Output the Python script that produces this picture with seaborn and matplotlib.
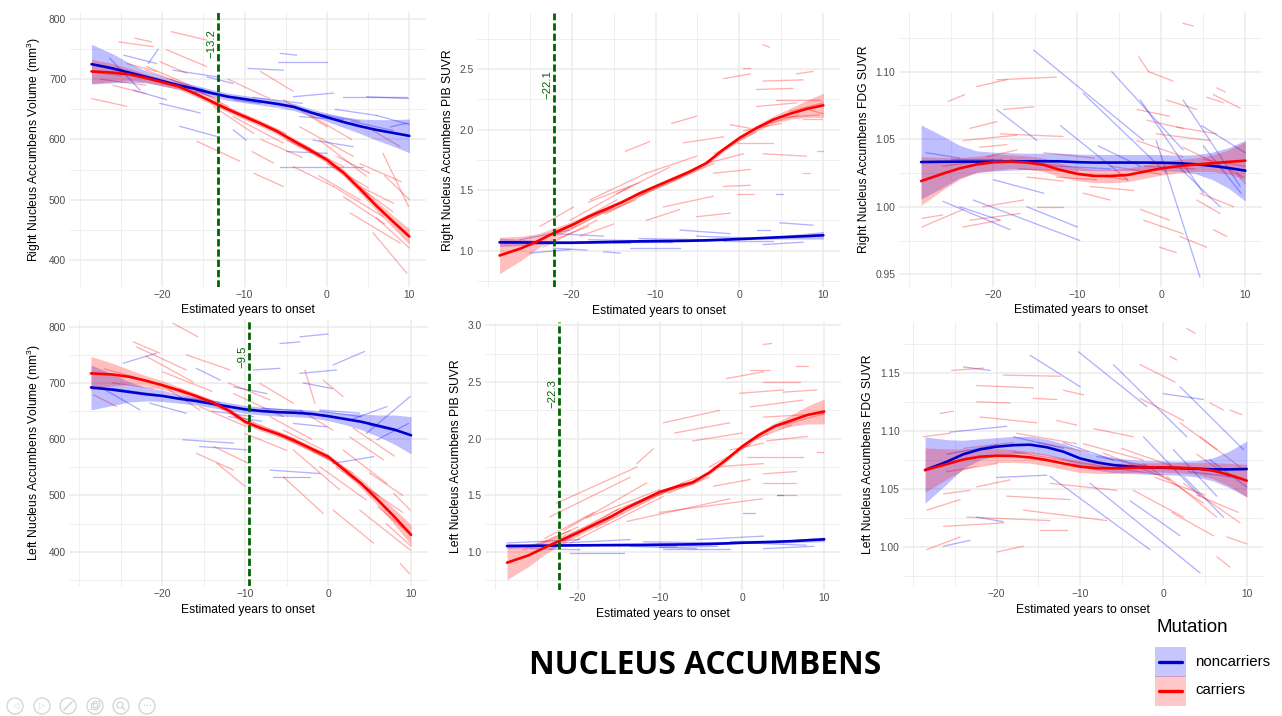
import numpy as np
import pandas as pd
import seaborn as sns
import matplotlib.pyplot as plt
import matplotlib.transforms as mtransforms
from matplotlib.patches import Rectangle, Circle
from matplotlib.lines import Line2D

sns.set_theme(style="white")
plt.rcParams['font.family'] = ['Liberation Sans', 'DejaVu Sans']
plt.rcParams['mathtext.default'] = 'regular'
plt.rcParams['axes.unicode_minus'] = True
plt.rcParams['text.color'] = 'black'
plt.rcParams['axes.labelcolor'] = 'black'

W, H = 1282, 716

# ---------------------------------------------------------------- data
fit_years = [-28.6, -26, -24, -22, -20, -18, -16, -14, -12, -10,
             -8, -6, -4, -2, 0, 2, 4, 6, 8, 10]

# Right nucleus accumbens volume (mm^3)
rvol_fit_non = [725, 718, 711, 704, 697, 690, 684, 677, 671, 667,
                663, 659, 654, 645, 637, 629, 622, 616, 611, 606]
rvol_se_non = [33, 24, 16, 10, 8, 7, 6, 6, 6, 6, 6, 6, 6, 6, 7, 9, 12, 17, 22, 28]
rvol_fit_car = [713, 711, 708, 702, 695, 688, 676, 663, 650, 638,
                626, 613, 597, 582, 566, 545, 518, 490, 464, 439]
rvol_se_car = [20, 15, 10, 7, 6, 5, 5, 5, 5, 5, 5, 5, 5, 5, 5, 6, 7, 8, 10, 13]

# Right nucleus accumbens PIB SUVR
rpib_fit_non = [1.069, 1.068, 1.067, 1.066, 1.066, 1.068, 1.071, 1.074, 1.077, 1.079,
                1.080, 1.082, 1.085, 1.090, 1.096, 1.102, 1.108, 1.114, 1.120, 1.127]
rpib_se_non = [0.035, 0.025, 0.017, 0.012, 0.010, 0.009, 0.008, 0.008, 0.008, 0.008,
               0.008, 0.008, 0.008, 0.008, 0.009, 0.010, 0.013, 0.018, 0.025, 0.032]
rpib_fit_car = [0.96, 1.02, 1.08, 1.15, 1.21, 1.28, 1.34, 1.40, 1.47, 1.53,
                1.59, 1.65, 1.72, 1.83, 1.93, 2.01, 2.08, 2.13, 2.17, 2.20]
rpib_se_car = [0.15, 0.10, 0.06, 0.04, 0.03, 0.025, 0.02, 0.02, 0.02, 0.02,
               0.02, 0.02, 0.02, 0.02, 0.02, 0.025, 0.03, 0.045, 0.07, 0.10]

# Right nucleus accumbens FDG SUVR
rfdg_fit_non = [1.0331, 1.0333, 1.0334, 1.0334, 1.0334, 1.0335, 1.0336, 1.0337, 1.0336, 1.0330,
                1.0327, 1.0327, 1.0327, 1.0327, 1.0326, 1.0322, 1.0315, 1.0303, 1.0287, 1.0267]
rfdg_se_non = [0.0275, 0.019, 0.012, 0.008, 0.007, 0.0065, 0.006, 0.006, 0.006, 0.006,
               0.006, 0.006, 0.006, 0.006, 0.006, 0.006, 0.007, 0.010, 0.015, 0.0225]
rfdg_fit_car = [1.0190, 1.0245, 1.0284, 1.0313, 1.0329, 1.0334, 1.0327, 1.0310, 1.0272, 1.0243,
                1.0228, 1.0228, 1.0235, 1.0260, 1.0284, 1.0300, 1.0312, 1.0322, 1.0332, 1.0341]
rfdg_se_car = [0.018, 0.012, 0.008, 0.006, 0.006, 0.005, 0.005, 0.005, 0.005, 0.005,
               0.005, 0.005, 0.005, 0.005, 0.005, 0.005, 0.005, 0.006, 0.009, 0.014]

# Left nucleus accumbens volume (mm^3)
lvol_fit_non = [692, 688, 684, 680, 677, 672, 668, 663, 658, 653,
                650, 648, 647, 645, 641, 636, 631, 624, 617, 607]
lvol_se_non = [40, 28, 18, 12, 10, 8, 7, 7, 7, 7, 7, 7, 7, 7, 8, 10, 14, 19, 26, 33]
lvol_fit_car = [717, 715, 711, 704, 696, 687, 677, 666, 651, 631,
                619, 609, 597, 583, 569, 545, 521, 492, 462, 430]
lvol_se_car = [30, 20, 13, 9, 8, 6, 5, 5, 5, 5, 5, 5, 5, 5, 5, 6, 8, 10, 14, 18]

# Left nucleus accumbens PIB SUVR
lpib_fit_non = [1.053, 1.055, 1.056, 1.058, 1.059, 1.060, 1.061, 1.062, 1.063, 1.065,
                1.066, 1.068, 1.071, 1.076, 1.082, 1.086, 1.090, 1.096, 1.104, 1.112]
lpib_se_non = [0.022, 0.016, 0.012, 0.010, 0.008, 0.008, 0.007, 0.007, 0.007, 0.007,
               0.007, 0.007, 0.007, 0.007, 0.008, 0.009, 0.011, 0.014, 0.017, 0.021]
lpib_fit_car = [0.906, 0.97, 1.04, 1.105, 1.17, 1.24, 1.31, 1.39, 1.46, 1.53,
                1.575, 1.615, 1.70, 1.81, 1.93, 2.03, 2.11, 2.16, 2.21, 2.24]
lpib_se_car = [0.15, 0.10, 0.06, 0.04, 0.03, 0.025, 0.02, 0.02, 0.02, 0.02,
               0.02, 0.02, 0.02, 0.02, 0.02, 0.025, 0.03, 0.05, 0.08, 0.11]

# Left nucleus accumbens FDG SUVR
lfdg_fit_non = [1.0664, 1.0735, 1.0800, 1.0842, 1.0865, 1.0878, 1.0882, 1.0860, 1.0822, 1.0764,
                1.0730, 1.0707, 1.0694, 1.0687, 1.0684, 1.0680, 1.0675, 1.0670, 1.0670, 1.0673]
lfdg_se_non = [0.0285, 0.019, 0.012, 0.009, 0.0078, 0.0075, 0.0072, 0.007, 0.007, 0.007,
               0.0068, 0.0065, 0.006, 0.006, 0.006, 0.006, 0.007, 0.010, 0.016, 0.024]
lfdg_fit_car = [1.0664, 1.0715, 1.0755, 1.0779, 1.0787, 1.0785, 1.0773, 1.0750, 1.0721, 1.0693,
                1.0680, 1.0679, 1.0683, 1.0687, 1.0687, 1.0684, 1.0678, 1.0658, 1.0621, 1.0573]
lfdg_se_car = [0.019, 0.013, 0.009, 0.007, 0.006, 0.0055, 0.005, 0.005, 0.005, 0.005,
               0.0045, 0.0045, 0.004, 0.004, 0.004, 0.0045, 0.005, 0.007, 0.010, 0.014]

# individual trajectories: (first visit EYO, last visit EYO, first value, last value)
rvol_traj_car = [
    (-25.3, -21.1, 762, 754), (-23.3, -21.3, 768, 762), (-18.9, -14.6, 779, 765),
    (-28.6, -24.3, 668, 655), (-19.5, -14.6, 749, 721), (-21.9, -15.8, 721, 685),
    (-15.8, -10.6, 597, 564), (-9.1, -6.5, 580, 561), (-8.9, -5.3, 544, 522),
    (-8.1, -4.1, 713, 680), (-5.3, 0.0, 666, 621), (-3.3, 3.2, 621, 572),
    (-0.9, 4.8, 599, 539), (0.8, 6.8, 522, 472), (2.8, 8.9, 478, 428),
    (5.6, 9.7, 445, 378), (6.8, 9.9, 577, 489), (1.2, 5.2, 572, 544),
    (-11.4, -5.3, 638, 594), (-13.8, -8.9, 655, 610), (-4.9, -0.9, 599, 572),
    (-4.1, 0.8, 555, 522), (4.0, 8.1, 522, 494), (4.8, 8.9, 621, 588),
    (-24.3, -20.7, 726, 713), (-20.3, -17.0, 729, 710), (-27.5, -22.0, 700, 690),
    (-12.0, -7.0, 700, 668), (-2.0, 3.0, 640, 600), (7.0, 10.0, 540, 500),
    (-28.5, -25.0, 712, 706), (-26.0, -22.0, 690, 676),
    (-22.0, -17.0, 715, 690), (-17.0, -12.0, 690, 655), (-14.0, -9.0, 660, 630),
    (-10.0, -5.0, 640, 610), (-7.0, -2.0, 620, 585), (-3.0, 2.0, 590, 555),
    (0.0, 5.0, 560, 520), (3.0, 8.0, 530, 480), (-1.0, 4.0, 540, 500),
    (2.0, 7.0, 505, 460), (6.0, 10.0, 470, 420), (-19.0, -13.0, 700, 665),
    (-8.0, -3.0, 600, 570), (4.0, 9.0, 560, 530),
]
rvol_traj_non = [
    (-5.7, -3.7, 743, 740), (-5.9, 0.0, 729, 729), (-9.6, -5.3, 718, 715),
    (-21.7, -20.5, 726, 750), (-24.7, -20.7, 740, 726), (-18.7, -13.4, 715, 704),
    (-26.4, -22.7, 735, 682), (-17.9, -13.4, 622, 605), (-11.4, -8.1, 666, 660),
    (-4.1, 0.8, 671, 677), (2.0, 9.7, 671, 671), (4.8, 9.9, 671, 668),
    (-3.3, 2.0, 638, 633), (-5.7, 4.4, 555, 555), (-1.7, 3.2, 599, 588),
    (-20.3, -15.4, 660, 644), (-23.5, -19.5, 682, 666), (7.7, 9.7, 621, 627),
    (-14.6, -11.4, 704, 693), (-11.4, -9.8, 616, 599), (-4.9, 0.0, 580, 577),
    (1.0, 6.0, 650, 640), (-16.0, -12.0, 680, 672),
    (-27.0, -23.0, 720, 705), (-20.0, -15.0, 695, 683), (-9.0, -3.0, 670, 660),
    (-2.0, 4.0, 645, 630), (3.0, 8.0, 630, 615), (6.0, 10.0, 640, 625),
]
rpib_traj_car = [
    (2.8, 3.6, 2.70, 2.68), (-1.9, 1.3, 2.42, 2.46), (0.4, 1.2, 2.51, 2.51),
    (2.05, 6.4, 2.33, 2.34), (2.8, 7.6, 2.40, 2.41), (4.4, 9.6, 2.24, 2.24),
    (6.8, 8.8, 2.46, 2.48), (2.05, 6.8, 2.19, 2.22), (8.4, 10.0, 2.16, 2.13),
    (7.6, 9.8, 2.09, 2.09), (-8.1, -5.1, 2.05, 2.11), (-1.1, 1.3, 2.04, 2.01),
    (-0.3, 4.0, 1.89, 1.89), (2.8, 8.0, 1.80, 1.78), (-13.6, -10.7, 1.82, 1.90),
    (-3.1, 1.3, 1.64, 1.67), (-1.9, 1.3, 1.53, 1.54), (-0.3, 1.7, 1.47, 1.47),
    (-9.1, -3.1, 1.36, 1.45), (-11.1, -7.1, 1.25, 1.34), (-23.8, -19.8, 1.20, 1.36),
    (-23.4, -17.0, 1.03, 1.25), (-21.8, -14.6, 1.14, 1.42), (-20.2, -13.0, 1.25, 1.53),
    (-17.8, -11.1, 1.42, 1.64), (-14.6, -8.3, 1.47, 1.69), (-11.1, -5.1, 1.64, 1.78),
    (-6.7, -1.9, 1.89, 1.94), (7.6, 8.4, 1.64, 1.64), (9.2, 10.0, 1.82, 1.82),
    (-5.1, -1.1, 1.28, 1.31), (-16.2, -12.3, 1.31, 1.42), (-22.5, -18.0, 1.08, 1.20),
    (-4.0, 0.5, 1.72, 1.80), (0.5, 5.0, 1.99, 2.05), (5.0, 9.5, 2.10, 2.12),
    (-19.0, -15.0, 1.12, 1.22),
    (-25.0, -20.0, 1.05, 1.22), (-20.0, -15.0, 1.18, 1.36), (-16.0, -11.0, 1.30, 1.48),
    (-12.0, -7.0, 1.45, 1.60), (-8.0, -3.0, 1.58, 1.72), (-3.0, 2.0, 1.80, 1.98),
    (2.0, 7.0, 2.02, 2.12), (6.0, 10.0, 2.15, 2.22), (-18.0, -12.0, 1.40, 1.56),
]
rpib_traj_non = [
    (-26.2, -20.2, 1.09, 1.17), (-21.8, -16.2, 1.14, 1.12), (-19.4, -13.0, 1.07, 1.06),
    (-16.2, -14.2, 0.99, 0.98), (-22.2, -18.2, 1.02, 1.005), (-7.1, -1.1, 1.17, 1.14),
    (-5.1, 2.8, 1.12, 1.10), (2.05, 3.6, 1.17, 1.17), (4.8, 8.8, 1.23, 1.21),
    (4.4, 5.2, 1.47, 1.47), (2.8, 7.6, 1.05, 1.07), (-13.0, -7.1, 1.02, 1.02),
    (-25.0, -20.2, 0.98, 1.01), (-12.0, -4.0, 1.10, 1.09), (-2.0, 4.0, 1.08, 1.08),
    (-18.0, -10.0, 1.09, 1.08),
    (-28.0, -22.0, 1.06, 1.07), (-15.0, -8.0, 1.07, 1.07), (-5.0, 2.0, 1.09, 1.10),
    (4.0, 10.0, 1.11, 1.13),
]
rfdg_traj_car = [
    (2.6, 3.8, 1.1358, 1.1338), (-2.7, -1.5, 1.111, 1.100), (-1.5, 1.4, 1.100, 1.093),
    (-22.0, -18.4, 1.089, 1.094), (-19.6, -12.5, 1.094, 1.096), (-25.4, -23.4, 1.078, 1.083),
    (-18.8, -15.2, 1.072, 1.074), (-22.8, -19.6, 1.058, 1.063), (-23.6, -17.2, 1.049, 1.053),
    (-19.2, -11.7, 1.054, 1.052), (-21.6, -18.4, 1.044, 1.046), (-2.9, 1.0, 1.072, 1.067),
    (-1.7, 2.6, 1.064, 1.058), (-0.6, 5.8, 1.054, 1.049), (1.8, 6.6, 1.059, 1.054),
    (5.4, 7.4, 1.081, 1.077), (6.6, 7.6, 1.088, 1.085), (6.2, 9.4, 1.083, 1.073),
    (0.6, 4.2, 1.079, 1.072), (2.6, 9.8, 1.044, 1.022), (-2.9, 2.6, 1.049, 1.037),
    (-16.0, -11.7, 1.022, 1.019), (-12.5, -7.7, 1.022, 1.020), (-8.5, -3.3, 1.015, 1.012),
    (-9.3, -6.1, 1.010, 1.005), (-14.8, -11.7, 1.000, 1.000), (-28.5, -26.0, 0.9914, 0.9939),
    (-28.5, -23.6, 0.985, 0.998), (-23.6, -19.2, 0.985, 0.990), (-22.8, -16.8, 0.990, 0.995),
    (-21.2, -16.4, 1.000, 1.005), (-20.8, -17.2, 1.037, 1.042), (-2.5, 1.0, 0.998, 0.990),
    (-2.1, 2.6, 0.990, 0.980), (-0.2, 1.8, 0.970, 0.966), (2.2, 5.4, 0.978, 0.970),
    (4.2, 7.0, 1.005, 0.995), (6.2, 7.8, 0.983, 0.978), (9.0, 10.0, 1.025, 1.017),
    (4.6, 8.6, 1.010, 1.000), (-17.0, -10.0, 1.028, 1.026), (-6.0, 0.0, 1.030, 1.024),
    (-26.0, -20.0, 1.030, 1.035), (-18.0, -12.0, 1.035, 1.030), (-10.0, -4.0, 1.025, 1.020),
    (-2.0, 4.0, 1.030, 1.028), (5.0, 10.0, 1.035, 1.030), (-14.0, -8.0, 1.040, 1.036),
]
rfdg_traj_non = [
    (-15.2, -2.1, 1.116, 1.049), (-5.9, 2.6, 1.100, 1.042), (-9.3, 0.6, 1.084, 1.025),
    (-2.5, 5.0, 1.079, 1.010), (2.6, 9.4, 1.079, 1.015), (-19.6, -14.8, 1.072, 1.049),
    (-0.6, 4.6, 1.049, 0.948), (-24.0, -19.2, 1.000, 0.990), (-22.4, -9.7, 1.005, 0.975),
    (-26.0, -18.0, 1.004, 0.983), (-7.5, -2.5, 1.045, 1.030), (4.8, 10.0, 1.060, 1.040),
    (-28.0, -24.0, 1.040, 1.036), (-12.0, -4.0, 1.060, 1.020), (2.0, 7.0, 1.030, 1.000),
    (5.0, 9.5, 1.045, 1.010), (-16.0, -10.0, 1.000, 0.985), (-20.0, -14.0, 1.020, 1.010),
    (-25.0, -19.0, 1.035, 1.035), (-12.0, -6.0, 1.030, 1.028),
]
lvol_traj_car = [
    (-18.7, -15.7, 806, 782), (-23.5, -20.3, 773, 753), (-23.1, -17.1, 764, 723),
    (-28.3, -25.5, 679, 658), (-21.9, -16.3, 747, 702), (-17.1, -11.8, 750, 723),
    (-15.9, -11.4, 575, 545), (-13.4, -10.0, 557, 516), (-15.5, -9.8, 658, 622),
    (-11.4, -5.4, 681, 640), (-8.2, -4.2, 699, 664), (-5.4, -0.6, 616, 581),
    (-2.8, -1.6, 723, 664), (-5.4, -0.6, 533, 468), (-4.2, 1.4, 581, 510),
    (-1.0, 4.6, 551, 492), (0.6, 5.5, 474, 415), (1.8, 7.1, 581, 521),
    (3.8, 9.9, 474, 403), (8.7, 9.8, 379, 361), (7.9, 9.9, 504, 474),
    (-0.6, 1.8, 705, 676), (-13.8, -9.6, 587, 557), (-20.3, -15.5, 699, 652),
    (-3.4, 0.6, 652, 616), (2.6, 6.7, 604, 563), (-26.0, -21.0, 700, 690),
    (-10.0, -5.0, 610, 580), (5.0, 9.0, 540, 500), (-7.0, -2.0, 640, 600),
    (-27.0, -22.0, 725, 705), (-22.0, -17.0, 705, 680), (-18.0, -13.0, 690, 660),
    (-14.0, -9.0, 665, 630), (-9.0, -4.0, 630, 600), (-5.0, 0.0, 600, 565),
    (-2.0, 3.0, 580, 540), (1.0, 6.0, 550, 500), (4.0, 9.0, 520, 470),
    (6.0, 10.0, 480, 430), (-20.0, -14.0, 720, 685), (-12.0, -7.0, 700, 670),
    (3.0, 8.0, 620, 570), (7.0, 10.0, 450, 410),
]
lvol_traj_non = [
    (-5.8, -3.4, 770, 773), (-3.4, 0.0, 782, 787), (-3.4, 1.0, 717, 723),
    (0.6, 4.4, 732, 756), (-9.0, -5.8, 723, 726), (-15.9, -13.0, 726, 705),
    (-24.7, -20.7, 735, 753), (-27.5, -22.7, 693, 652), (-17.5, -11.4, 599, 593),
    (-15.5, -9.8, 587, 581), (-7.0, -1.0, 545, 539), (-6.6, -2.2, 533, 533),
    (-1.0, 3.8, 652, 646), (2.6, 7.1, 634, 658), (4.6, 9.9, 610, 676),
    (5.9, 9.7, 599, 628), (-11.4, -7.4, 693, 681), (-4.2, -0.2, 628, 622),
    (0.6, 5.5, 557, 569), (-21.5, -17.1, 664, 646), (-3.0, 0.5, 700, 690),
    (-12.0, -8.0, 640, 632),
    (-26.0, -21.0, 690, 680), (-18.0, -13.0, 675, 665), (-8.0, -3.0, 655, 650),
    (-1.0, 4.0, 650, 640), (5.0, 9.0, 625, 612), (-14.0, -9.0, 650, 640),
]
lpib_traj_car = [
    (2.6, 3.6, 2.83, 2.84), (-1.9, 2.6, 2.53, 2.59), (6.6, 8.0, 2.64, 2.64),
    (1.0, 3.4, 2.61, 2.61), (2.6, 7.0, 2.50, 2.50), (5.0, 9.1, 2.41, 2.43),
    (-0.3, 5.0, 2.40, 2.43), (1.0, 7.4, 2.28, 2.34), (2.6, 9.9, 2.19, 2.22),
    (-9.6, -2.7, 2.14, 2.25), (-8.2, -1.5, 2.05, 2.14), (-12.8, -10.8, 1.78, 1.91),
    (-1.5, 2.6, 1.90, 1.96), (0.6, 7.4, 1.84, 1.84), (9.1, 9.9, 1.88, 1.88),
    (-3.5, 2.6, 1.75, 1.78), (2.6, 6.6, 1.69, 1.71), (2.6, 6.6, 1.61, 1.61),
    (4.2, 6.6, 1.50, 1.50), (-14.0, -1.5, 1.27, 1.47), (-10.0, 2.5, 1.35, 1.47),
    (-22.6, -12.8, 1.43, 1.75), (-23.4, -13.6, 1.31, 1.66), (-21.7, -11.6, 1.19, 1.61),
    (-23.4, -15.3, 1.02, 1.37), (-20.9, -9.6, 1.08, 1.49), (-17.7, -7.2, 1.22, 1.61),
    (-15.3, -5.5, 1.37, 1.66), (-26.6, -20.9, 1.02, 1.19), (-3.5, 1.0, 1.58, 1.64),
    (-19.0, -10.0, 1.30, 1.55), (-6.0, 0.0, 1.98, 2.05), (3.0, 8.0, 1.98, 2.02),
    (-25.0, -20.0, 1.05, 1.22), (-21.0, -15.0, 1.15, 1.38), (-17.0, -11.0, 1.28, 1.50),
    (-13.0, -7.0, 1.42, 1.60), (-9.0, -4.0, 1.52, 1.66), (-4.0, 1.0, 1.75, 1.95),
    (1.0, 6.0, 1.98, 2.12), (5.0, 10.0, 2.12, 2.22), (-24.0, -18.0, 1.12, 1.35),
]
lpib_traj_non = [
    (-28.6, -19.7, 1.08, 1.11), (-21.7, -13.6, 1.08, 1.11), (-20.9, -14.4, 0.99, 0.99),
    (-13.6, -5.5, 1.05, 1.03), (-5.5, 2.6, 1.11, 1.14), (0.6, 7.8, 1.08, 1.06),
    (4.2, 5.0, 1.50, 1.50), (0.1, 1.6, 1.34, 1.34), (-9.6, -1.5, 1.03, 1.03),
    (-25.8, -19.7, 1.03, 1.02), (-1.5, 6.6, 1.10, 1.10), (2.6, 8.7, 1.03, 1.05),
    (-18.0, -8.0, 1.06, 1.05), (-12.0, -2.0, 1.09, 1.08),
    (-27.0, -20.0, 1.05, 1.06), (-16.0, -9.0, 1.06, 1.06), (-6.0, 1.0, 1.07, 1.08),
    (3.0, 10.0, 1.09, 1.11), (-10.0, -3.0, 1.04, 1.05),
]
lfdg_traj_car = [
    (2.8, 3.8, 1.188, 1.184), (0.8, 1.6, 1.164, 1.161), (-2.8, 1.4, 1.157, 1.142),
    (-25.4, -21.6, 1.152, 1.154), (-19.2, -12.4, 1.148, 1.147), (-22.4, -15.6, 1.139, 1.137),
    (-12.0, -9.6, 1.135, 1.131), (-22.4, -18.4, 1.125, 1.124), (-15.6, -12.8, 1.128, 1.127),
    (-26.8, -25.2, 1.115, 1.117), (-22.0, -15.2, 1.112, 1.107), (-12.8, -10.4, 1.109, 1.105),
    (-2.8, 2.4, 1.128, 1.109), (5.6, 7.2, 1.124, 1.118), (8.0, 9.4, 1.118, 1.114),
    (2.0, 6.4, 1.107, 1.084), (4.4, 9.2, 1.095, 1.069), (-8.4, -3.6, 1.102, 1.095),
    (-9.6, -2.4, 1.089, 1.075), (-7.2, 0.8, 1.081, 1.058), (-2.4, 4.8, 1.072, 1.038),
    (0.4, 6.4, 1.061, 1.026), (2.4, 9.2, 1.055, 1.021), (7.6, 10.0, 1.009, 1.003),
    (6.4, 8.0, 0.992, 0.983), (-3.6, 2.4, 1.049, 1.026), (-28.4, -24.4, 1.032, 1.041),
    (-28.4, -24.4, 0.998, 1.009), (-26.4, -19.2, 1.018, 1.021), (-20.0, -16.8, 0.996, 1.001),
    (-22.4, -18.4, 1.052, 1.058), (-26.4, -23.2, 1.046, 1.049), (-23.6, -13.6, 1.026, 1.023),
    (-14.8, -11.6, 1.015, 1.015), (-18.8, -11.2, 1.044, 1.041), (-16.8, -6.8, 1.032, 1.023),
    (-13.6, -5.6, 1.055, 1.049), (-28.8, -25.6, 1.095, 1.098), (-17.6, -10.4, 1.098, 1.089),
    (1.0, 6.0, 1.030, 1.010), (4.0, 8.0, 1.080, 1.060),
    (-24.0, -18.0, 1.085, 1.090), (-18.0, -12.0, 1.082, 1.075), (-12.0, -6.0, 1.075, 1.068),
    (-6.0, 0.0, 1.068, 1.062), (-1.0, 5.0, 1.060, 1.045), (4.0, 9.0, 1.045, 1.030),
    (-26.0, -20.0, 1.065, 1.072), (-15.0, -9.0, 1.090, 1.082), (-5.0, 1.0, 1.085, 1.070),
]
lfdg_traj_non = [
    (-16.0, -10.0, 1.165, 1.138), (-10.2, -2.0, 1.168, 1.121), (-6.0, 2.8, 1.157, 1.095),
    (2.0, 9.6, 1.138, 1.084), (-2.4, 4.4, 1.095, 1.044), (-25.6, -18.8, 1.099, 1.104),
    (-24.0, -20.8, 1.155, 1.152), (-13.6, -1.6, 1.061, 0.998), (-8.8, 4.4, 1.055, 0.978),
    (-26.4, -23.2, 1.001, 1.006), (-22.4, -19.2, 1.026, 1.022), (2.4, 7.2, 1.061, 1.026),
    (0.0, 4.8, 1.132, 1.127), (1.2, 6.4, 1.084, 1.044), (5.6, 10.0, 1.075, 1.052),
    (-20.0, -14.0, 1.060, 1.062), (-12.0, -6.0, 1.090, 1.075), (-4.0, 2.0, 1.040, 1.010),
    (-26.0, -20.0, 1.080, 1.088), (-18.0, -12.0, 1.095, 1.085), (-8.0, -2.0, 1.078, 1.070),
    (3.0, 9.0, 1.065, 1.060),
]

# change-point (years to onset) where carriers diverge from noncarriers
onset_rvol, onset_rpib, onset_lvol, onset_lpib = -13.2, -22.1, -9.5, -22.3

y_labels = [
    "Right Nucleus Accumbens Volume (mm$^3$)",
    "Right Nucleus Accumbens PIB SUVR",
    "Right Nucleus Accumbens FDG SUVR",
    "Left Nucleus Accumbens Volume (mm$^3$)",
    "Left Nucleus Accumbens PIB SUVR",
    "Left Nucleus Accumbens FDG SUVR",
]
x_label = "Estimated years to onset"
x_ticks = [-20, -10, 0, 10]
x_minor = [-30, -25, -15, -5, 5]
title_text = "NUCLEUS ACCUMBENS"
legend_title = "Mutation"
groups = ["noncarriers", "carriers"]

# ---------------------------------------------------------------- style
line_col = {"noncarriers": "#0000CD", "carriers": "#FF0000"}
traj_col = {"noncarriers": "#0000FF", "carriers": "#FF0000"}
band_col = {"noncarriers": "#0000FF", "carriers": "#FF0000"}
vline_col = "#006400"
grid_col = "#EBEBEB"
tick_col = "#4D4D4D"


def traj_frame(segs, group):
    rows = []
    for i, (x0, x1, y0, y1) in enumerate(segs):
        uid = f"{group}-{i}"
        rows.append((x0, y0, uid, group))
        rows.append((x1, y1, uid, group))
    return pd.DataFrame(rows, columns=["eyo", "value", "uid", "group"])


def fit_frame(fit_non, fit_car):
    n = len(fit_years)
    return pd.DataFrame({
        "eyo": list(fit_years) * 2,
        "value": list(fit_non) + list(fit_car),
        "group": ["noncarriers"] * n + ["carriers"] * n,
    })


panels = [
    dict(rect=(69.7, 11.7, 425.8, 286.7), ylim=(355.7, 812.1),
         yticks=[400, 500, 600, 700, 800], yminor=[450, 550, 650, 750], fmt="{:.0f}",
         traj=(rvol_traj_non, rvol_traj_car),
         fit=(rvol_fit_non, rvol_fit_car), se=(rvol_se_non, rvol_se_car),
         onset=onset_rvol, onset_y=759),
    dict(rect=(477.3, 13.0, 840.1, 287.0), ylim=(0.700, 2.962),
         yticks=[1.0, 1.5, 2.0, 2.5], yminor=[0.75, 1.25, 1.75, 2.25, 2.75], fmt="{:.1f}",
         traj=(rpib_traj_non, rpib_traj_car),
         fit=(rpib_fit_non, rpib_fit_car), se=(rpib_se_non, rpib_se_car),
         onset=onset_rpib, onset_y=2.368),
    dict(rect=(898.8, 11.7, 1262.1, 286.7), ylim=(0.9408, 1.1444),
         yticks=[0.95, 1.00, 1.05, 1.10], yminor=[0.975, 1.025, 1.075, 1.125], fmt="{:.2f}",
         traj=(rfdg_traj_non, rfdg_traj_car),
         fit=(rfdg_fit_non, rfdg_fit_car), se=(rfdg_se_non, rfdg_se_car),
         onset=None, onset_y=None),
    dict(rect=(69.0, 320.0, 427.6, 586.0), ylim=(339.0, 811.9),
         yticks=[400, 500, 600, 700, 800], yminor=[350, 450, 550, 650, 750], fmt="{:.0f}",
         traj=(lvol_traj_non, lvol_traj_car),
         fit=(lvol_fit_non, lvol_fit_car), se=(lvol_se_non, lvol_se_car),
         onset=onset_lvol, onset_y=746.7),
    dict(rect=(485.2, 322.0, 840.7, 590.0), ylim=(0.665, 3.029),
         yticks=[1.0, 1.5, 2.0, 2.5, 3.0], yminor=[0.75, 1.25, 1.75, 2.25, 2.75], fmt="{:.1f}",
         traj=(lpib_traj_non, lpib_traj_car),
         fit=(lpib_fit_non, lpib_fit_car), se=(lpib_se_non, lpib_se_car),
         onset=onset_lpib, onset_y=2.40),
    dict(rect=(903.0, 322.0, 1263.4, 586.0), ylim=(0.9668, 1.1936),
         yticks=[1.00, 1.05, 1.10, 1.15], yminor=[0.975, 1.025, 1.075, 1.125, 1.175], fmt="{:.2f}",
         traj=(lfdg_traj_non, lfdg_traj_car),
         fit=(lfdg_fit_non, lfdg_fit_car), se=(lfdg_se_non, lfdg_se_car),
         onset=None, onset_y=None),
]

fig = plt.figure(figsize=(W / 100, H / 100), dpi=100)
fig.patch.set_facecolor("white")


def minus(s):
    return s.replace("-", "\u2212")


for spec, ylab in zip(panels, y_labels):
    l, t, r, b = spec["rect"]
    ax = fig.add_axes([l / W, 1 - b / H, (r - l) / W, (b - t) / H])
    ax.set_facecolor("white")
    ax.set_xlim(-31.25, 12.0)
    ax.set_ylim(*spec["ylim"])

    # grid (theme_minimal look)
    ax.set_xticks(x_ticks)
    ax.set_xticks(x_minor, minor=True)
    ax.set_yticks(spec["yticks"])
    ax.set_yticks(spec["yminor"], minor=True)
    ax.set_xticklabels([minus(str(v)) for v in x_ticks])
    ax.set_yticklabels([spec["fmt"].format(v) for v in spec["yticks"]])
    ax.grid(which="major", color=grid_col, linewidth=1.1)
    ax.grid(which="minor", color=grid_col, linewidth=0.55)
    ax.set_axisbelow(True)
    for sp in ax.spines.values():
        sp.set_visible(False)
    ax.tick_params(which="both", length=0)
    ax.tick_params(axis="both", which="major", labelsize=7.4, labelcolor=tick_col, pad=2.5)

    # individual trajectories
    traj = pd.concat([traj_frame(spec["traj"][0], "noncarriers"),
                      traj_frame(spec["traj"][1], "carriers")], ignore_index=True)
    sns.lineplot(data=traj, x="eyo", y="value", hue="group", units="uid",
                 estimator=None, sort=False, palette=traj_col, alpha=0.3,
                 linewidth=0.95, legend=False, ax=ax, zorder=1)

    # confidence bands
    for g, fit, se in zip(groups, spec["fit"], spec["se"]):
        f = np.asarray(fit, float)
        s = np.asarray(se, float)
        ax.fill_between(fit_years, f - s, f + s, color=band_col[g], alpha=0.25,
                        linewidth=0, zorder=2)

    # smooth fits
    sns.lineplot(data=fit_frame(*spec["fit"]), x="eyo", y="value", hue="group",
                 estimator=None, sort=False, palette=line_col, linewidth=1.9,
                 legend=False, ax=ax, zorder=3)

    # divergence point
    if spec["onset"] is not None:
        ax.axvline(spec["onset"], color=vline_col, linewidth=2.0,
                   dashes=(2.6, 1.1), zorder=4)
        off = mtransforms.ScaledTranslation(-1.2 / 72, 0, fig.dpi_scale_trans)
        ax.text(spec["onset"], spec["onset_y"], minus(f"{spec['onset']:.1f}"),
                rotation=90, ha="right", va="center", fontsize=8.2,
                color=vline_col, transform=ax.transData + off, zorder=5)

    ax.set_xlabel(x_label, fontsize=8.7, color="black", labelpad=3)
    ax.set_ylabel(ylab, fontsize=8.7, color="black", labelpad=4)

# title
fig.text(705 / W, 1 - 665 / H, title_text, ha="center", va="center", color="black",
         fontsize=22.8, fontweight="bold", family=["Open Sans", "DejaVu Sans"])

# legend
fig.text(1156 / W, 1 - 628 / H, legend_title, ha="left", va="center", fontsize=13.5,
         color="black")
key_rows = {"noncarriers": 647, "carriers": 676}
for g in groups:
    top = key_rows[g]
    fig.add_artist(Rectangle((1155 / W, 1 - (top + 29.5) / H), 31 / W, 29.5 / H,
                             transform=fig.transFigure, facecolor=band_col[g],
                             alpha=0.22, linewidth=0))
    yc = 1 - (top + 14.5) / H
    fig.add_artist(Line2D([1159 / W, 1182 / W], [yc, yc], transform=fig.transFigure,
                          color=line_col[g], linewidth=2.4))
    fig.text(1195 / W, yc, g, ha="left", va="center", fontsize=10.8, color="black")

# slide navigation controls
icon_col = "#D6D6D6"
centers = [15, 42, 68, 95, 121, 147]
for cx in centers:
    fig.add_artist(Circle((cx / 100, (H - 706) / 100), 0.08, transform=fig.dpi_scale_trans,
                          facecolor="none", edgecolor=icon_col, linewidth=1.0))
fig.text(centers[0] / W, 1 - 706 / H, "\u25c1", ha="center", va="center", fontsize=6,
         color=icon_col, family="DejaVu Sans")
fig.text(centers[1] / W, 1 - 706 / H, "\u25b7", ha="center", va="center", fontsize=6,
         color=icon_col, family="DejaVu Sans")
fig.add_artist(Line2D([(centers[2] - 4) / W, (centers[2] + 4) / W],
                      [1 - 710 / H, 1 - 702 / H], transform=fig.transFigure,
                      color=icon_col, linewidth=1.2))
fig.add_artist(Rectangle(((centers[3] - 4) / W, 1 - 709 / H), 6 / W, 6 / H,
                         transform=fig.transFigure, facecolor="none",
                         edgecolor=icon_col, linewidth=0.9))
fig.add_artist(Rectangle(((centers[3] - 2) / W, 1 - 707 / H), 6 / W, 6 / H,
                         transform=fig.transFigure, facecolor="none",
                         edgecolor=icon_col, linewidth=0.9))
fig.add_artist(Circle(((centers[4] - 1) / 100, (H - 705) / 100), 0.03,
                      transform=fig.dpi_scale_trans, facecolor="none",
                      edgecolor=icon_col, linewidth=0.9))
fig.add_artist(Line2D([(centers[4] + 1.5) / W, (centers[4] + 4) / W],
                      [1 - 707.5 / H, 1 - 710 / H], transform=fig.transFigure,
                      color=icon_col, linewidth=1.0))
fig.text(centers[5] / W, 1 - 706 / H, "\u2022\u2022\u2022", ha="center", va="center",
         fontsize=4, color=icon_col, family="DejaVu Sans")

fig.savefig("out.png", dpi=100, facecolor="white")
